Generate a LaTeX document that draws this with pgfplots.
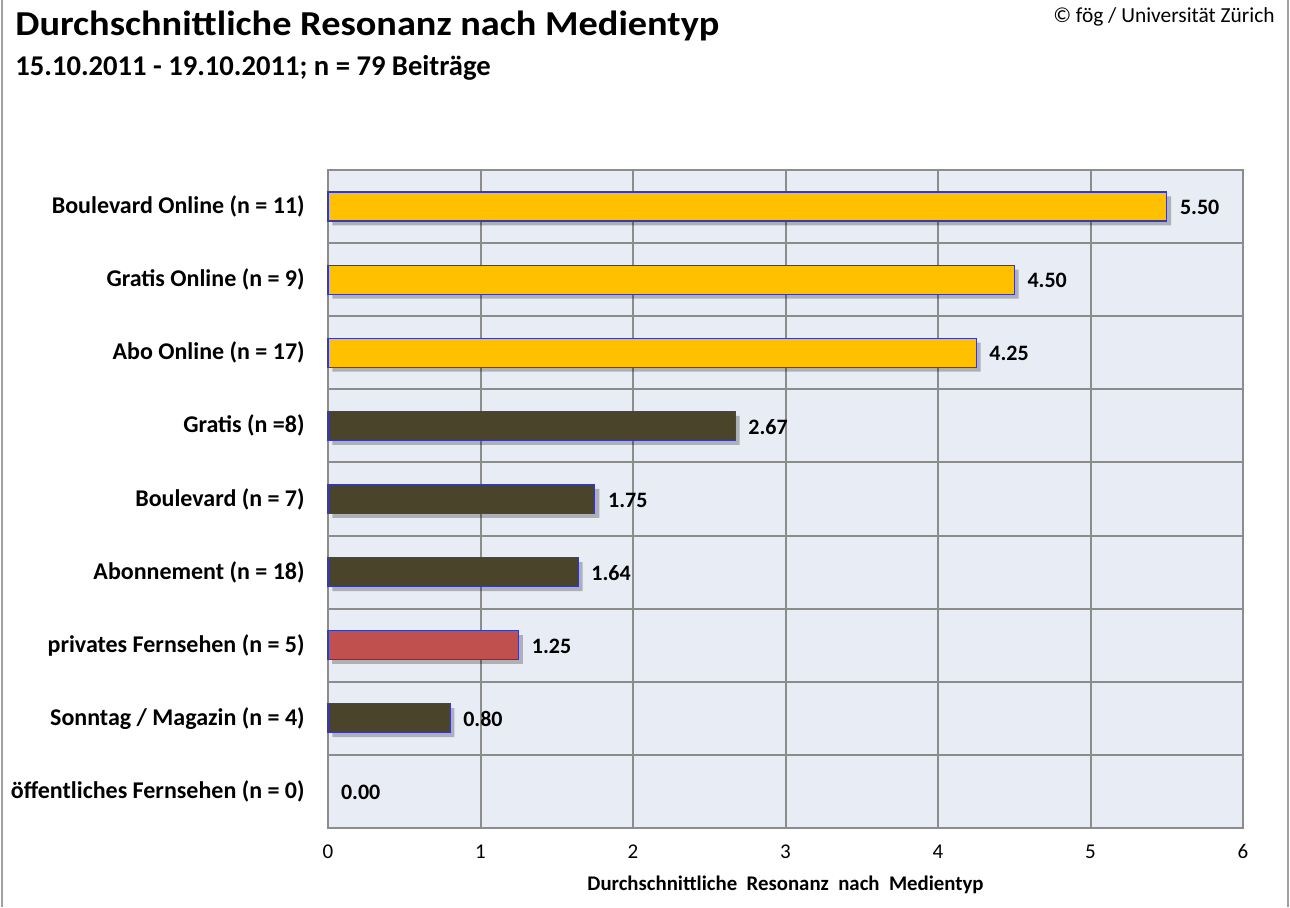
\documentclass[border=0pt]{standalone}
\usepackage{pgfplots}
\pgfplotsset{compat=1.18}
\usepackage{fontspec}
\setmainfont{Carlito}
\newfontfamily\titlefont[FakeStretch=1.095]{Carlito}
\usetikzlibrary{shadows}
\definecolor{gold}{HTML}{FFC000}
\definecolor{olive}{HTML}{4A452A}
\definecolor{redbar}{HTML}{C0504D}
\definecolor{barline}{HTML}{3A3AB0}
\definecolor{plotbg}{HTML}{E8ECF5}
\definecolor{gridc}{HTML}{8C8C8C}
\definecolor{framec}{HTML}{A0A0A0}
\begin{document}
\begin{tikzpicture}
\path[use as bounding box] (0pt,0pt) rectangle (645pt,453.5pt);
\draw[framec, line width=0.8pt] (1pt,0pt) -- (1pt,453.5pt);
\draw[framec, line width=0.8pt] (644pt,0pt) -- (644pt,453.5pt);
\node[anchor=base west, inner sep=0pt, font=\titlefont\bfseries\fontsize{17.5}{20}\selectfont] at (7.5pt,435.5pt) {Durchschnittliche Resonanz nach Medientyp};
\node[anchor=base west, inner sep=0pt, font=\bfseries\fontsize{14.3}{16}\selectfont] at (7.5pt,415.5pt) {15.10.2011 - 19.10.2011; n = 79 Beiträge};
\node[anchor=base east, inner sep=0pt, font=\fontsize{10.7}{13}\selectfont] at (637.5pt,442pt) {© fög / Universität Zürich};
\begin{axis}[
  at={(164pt,39.5pt)}, anchor=south west,
  scale only axis, width=457.5pt, height=329pt,
  xmin=0, xmax=6, ymin=-0.5, ymax=8.5,
  xbar, bar width=14.5pt, bar shift=0pt,
  axis background/.style={fill=plotbg},
  axis line style={draw=gridc, line width=1pt},
  xtick={0,1,2,3,4,5,6},
  ytick={0,1,2,3,4,5,6,7,8},
  yticklabels={{öffentliches Fernsehen (n = 0)},{Sonntag / Magazin (n = 4)},{privates Fernsehen (n = 5)},{Abonnement (n = 18)},{Boulevard (n = 7)},{Gratis (n =8)},{Abo Online (n = 17)},{Gratis Online (n = 9)},{Boulevard Online (n = 11)}},
  minor ytick={0.5,1.5,2.5,3.5,4.5,5.5,6.5,7.5},
  xmajorgrids=true, yminorgrids=true, ymajorgrids=false,
  grid style={draw=gridc, line width=1pt},
  minor grid style={draw=gridc, line width=1pt},
  major tick length=0pt, minor tick length=0pt,
  /pgf/number format/assume math mode=true,
  xticklabel style={font=\fontsize{10.5}{12}\selectfont, anchor=center, yshift=-11.5pt, text height=7pt, text depth=0pt},
  yticklabel style={font=\bfseries\fontsize{12}{14}\selectfont, anchor=east, inner sep=0pt, xshift=-11.5pt},
  xlabel={Durchschnittliche\ \ Resonanz\ \ nach\ \ Medientyp},
  xlabel style={font=\bfseries\fontsize{10.4}{12}\selectfont, at={(axis description cs:0.5,0)}, anchor=center, yshift=-28.5pt},
  point meta=x,
  nodes near coords,
  nodes near coords style={font=\bfseries\fontsize{11}{13}\selectfont, text=black, anchor=west, xshift=3pt, yshift=-0.5pt,
    /pgf/number format/.cd, fixed, fixed zerofill, precision=2, assume math mode=true},
  clip=false,
]
\addplot[fill=gold, draw=barline, line width=0.6pt, drop shadow={shadow xshift=2.2pt, shadow yshift=-2.2pt, draw=none, fill=black, opacity=0.25}] coordinates {(5.50,8) (4.50,7) (4.25,6)};
\addplot[fill=olive, draw=barline, line width=0.6pt, drop shadow={shadow xshift=2.2pt, shadow yshift=-2.2pt, draw=none, fill=black, opacity=0.25}] coordinates {(2.67,5) (1.75,4) (1.64,3) (0.80,1)};
\addplot[fill=redbar, draw=barline, line width=0.6pt, drop shadow={shadow xshift=2.2pt, shadow yshift=-2.2pt, draw=none, fill=black, opacity=0.25}] coordinates {(1.25,2)};
\addplot[draw=none, fill=none] coordinates {(0,0)};
\end{axis}
\end{tikzpicture}
\end{document}
